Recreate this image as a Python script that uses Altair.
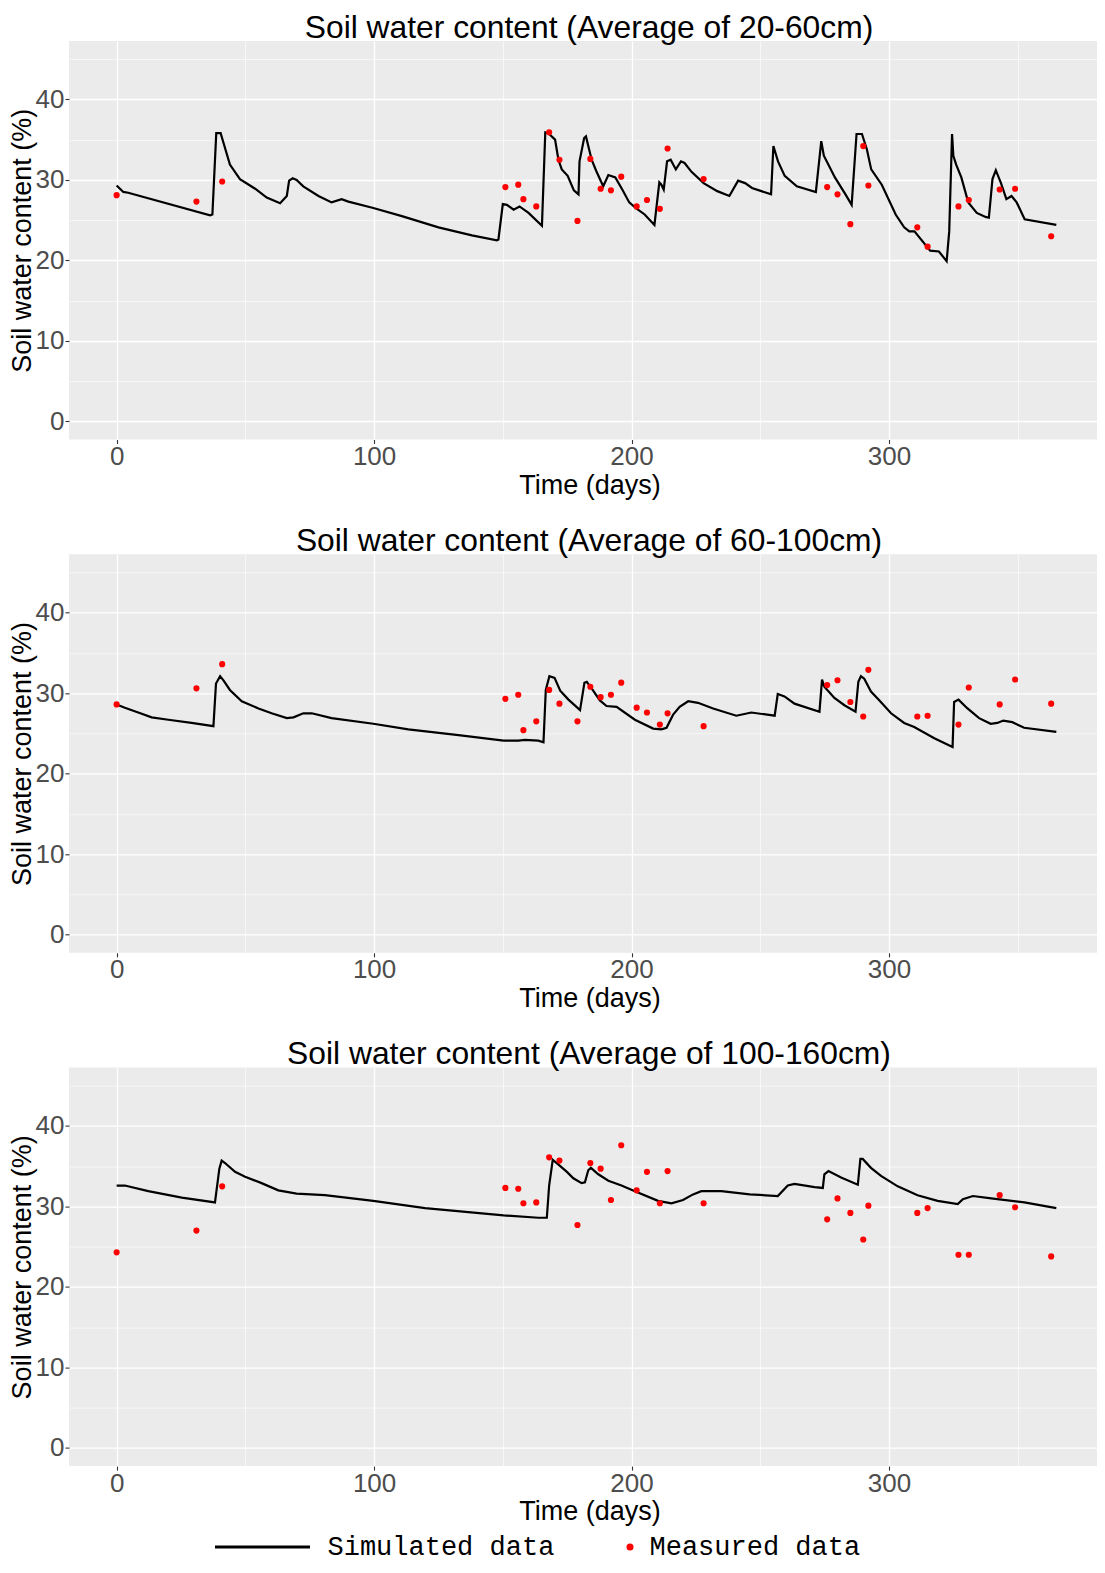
import altair as alt
import pandas as pd

# ---------------- data ----------------
TITLES = [
    "Soil water content (Average of 20-60cm)",
    "Soil water content (Average of 60-100cm)",
    "Soil water content (Average of 100-160cm)",
]

MEAS_DAYS = [0, 31, 41, 151, 156, 158, 163, 168, 172, 179, 184, 188, 192, 196,
             202, 206, 211, 214, 228, 276, 280, 285, 290, 292, 311, 315, 327,
             331, 343, 349, 363]

MEAS1 = [28.1, 27.3, 29.8, 29.1, 29.4, 27.6, 26.7, 35.9, 32.5, 24.9, 32.6, 28.9,
         28.7, 30.4, 26.7, 27.5, 26.4, 33.9, 30.1, 29.1, 28.2, 24.5, 34.2, 29.3,
         24.1, 21.7, 26.7, 27.5, 28.8, 28.9, 23.0]
MEAS2 = [28.6, 30.6, 33.6, 29.3, 29.8, 25.4, 26.5, 30.4, 28.7, 26.5, 30.8, 29.5,
         29.8, 31.3, 28.2, 27.6, 26.1, 27.5, 25.9, 31.0, 31.6, 28.9, 27.1, 32.9,
         27.1, 27.2, 26.1, 30.7, 28.6, 31.7, 28.7]
MEAS3 = [24.3, 27.0, 32.5, 32.3, 32.2, 30.4, 30.5, 36.1, 35.7, 27.7, 35.4, 34.7,
         30.8, 37.6, 32.0, 34.3, 30.4, 34.4, 30.4, 28.4, 31.0, 29.2, 25.9, 30.1,
         29.2, 29.8, 24.0, 24.0, 31.4, 29.9, 23.8]

SIM1_DAY = [0, 2.6, 4.5, 36.3, 37.2, 38.7, 40.4, 41.7, 44.0, 47.9, 53.8, 58.3,
            63.5, 66.1, 67.0, 68.4, 69.9, 72.5, 78.4, 83.5, 87.4, 90.0, 99.7,
            110.8, 125, 138, 147.7, 148.3, 150, 151.6, 154.2, 156.5, 160, 165.2,
            166.5, 167.7, 170.3, 171.6, 172.9, 175.2, 177.6, 179.4, 179.8, 181.6,
            182.3, 184.5, 186.3, 189.0, 191.0, 193.7, 196.4, 199.1, 201.7, 205.1,
            208.9, 210.8, 211.6, 212.5, 213.8, 215.2, 217.2, 219.2, 220.6, 223.3,
            228.0, 233.3, 238.0, 241.4, 244.1, 246.8, 254.2, 255.1, 256.9, 259.5,
            264.2, 271.6, 273.7, 274.7, 279.0, 283.1, 285.5, 287.4, 289.5, 291.4,
            293.1, 297.2, 302.6, 305.9, 307.9, 309.9, 316.0, 319.4, 322.4, 323.4,
            324.5, 325.0, 326.1, 328.1, 330.8, 334.1, 337.5, 338.8, 340.2, 341.5,
            343.5, 345.6, 347.6, 349.6, 352.7, 365]
SIM1_VAL = [29.3, 28.5, 28.4, 25.6, 25.7, 35.8, 35.8, 34.4, 31.9, 30.1, 28.9, 27.8,
            27.1, 28.0, 29.9, 30.2, 30.0, 29.2, 28.0, 27.2, 27.6, 27.3, 26.5,
            25.5, 24.1, 23.1, 22.5, 22.6, 27.0, 26.9, 26.3, 26.7, 25.9, 24.3,
            35.9, 35.8, 35.0, 32.5, 31.3, 30.5, 28.7, 28.2, 32.3, 35.2,
            35.4, 32.5, 31.1, 29.2, 30.6, 30.3, 28.8, 27.2, 26.5, 25.7,
            24.4, 29.7, 29.4, 28.8, 32.3, 32.5, 31.3, 32.3, 32.1, 31.0,
            29.6, 28.6, 28.0, 29.9, 29.6, 29.0, 28.2, 34.2, 32.3, 30.5,
            29.2, 28.5, 34.8, 33.0, 30.3, 28.2, 26.9, 35.7, 35.7, 33.8,
            31.3, 29.4, 25.7, 24.1, 23.6, 23.6, 21.2, 21.1, 19.9, 23.6,
            35.7, 33.0, 31.9, 30.3, 27.2, 25.9, 25.4, 25.3, 30.1, 31.2,
            29.6, 27.6, 28.0, 27.2, 25.1, 24.4]

SIM2_DAY = [0, 3.2, 8.4, 13.6, 20.1, 29.1, 37.6, 38.6, 40.2, 41.5, 44.0, 48.6,
            55.1, 60.2, 66.1, 68.7, 72.5, 75.8, 83.5, 99.7, 113.3, 132.8, 150.3,
            156.1, 158.6, 163.8, 165.8, 166.7, 168.1, 170.1, 172.3, 175.5, 180.0,
            181.7, 182.6, 184.5, 187.7, 190.3, 194.2, 201.3, 208.4, 211.6, 213.6,
            216.1, 218.7, 222.0, 225.8, 231.7, 240.7, 246.5, 255.6, 256.8, 259.4,
            263.3, 273.0, 274.0, 274.9, 278.8, 282.7, 287.0, 288.1, 289.1, 290.4,
            293.0, 296.3, 300.8, 305.9, 309.8, 317.6, 324.7, 325.3, 327.0, 330.5,
            335.0, 339.5, 342.1, 344.4, 347.9, 352.5, 365]
SIM2_VAL = [28.6, 28.2, 27.6, 27.0, 26.7, 26.3, 25.9, 31.2, 32.1, 31.6, 30.4, 29.0,
            28.1, 27.5, 26.9, 27.0, 27.5, 27.5, 26.9, 26.2, 25.5, 24.8, 24.1,
            24.1, 24.2, 24.1, 23.9, 30.4, 32.1, 31.9, 30.3, 29.2, 27.9,
            31.3, 31.4, 30.6, 29.1, 28.4, 28.3, 26.7, 25.6, 25.5, 25.7,
            27.3, 28.3, 29.0, 28.8, 28.1, 27.2, 27.6, 27.2, 29.9, 29.6,
            28.7, 27.7, 31.7, 30.8, 29.4, 28.5, 27.7, 31.4, 32.1, 31.8,
            30.2, 29.1, 27.5, 26.3, 25.8, 24.4, 23.3, 28.9, 29.2, 28.1,
            26.9, 26.2, 26.3, 26.6, 26.4, 25.7, 25.2]

SIM3_DAY = [0, 3.2, 12.3, 25.3, 38.2, 39.9, 40.8, 42.1, 46.0, 49.9, 56.3, 62.8,
            69.9, 80.9, 99.7, 119.8, 150.3, 163.8, 167.1, 168.0, 169.4, 171.3,
            174.9, 177.4, 180.6, 181.9, 183.2, 184.2, 187.1, 191.0, 196.1, 201.3,
            210.3, 215.5, 220.0, 223.9, 227.1, 234.9, 245.9, 256.8, 260.7, 263.3,
            271.1, 274.3, 274.9, 276.5, 281.4, 287.9, 288.9, 289.8, 293.0, 296.9,
            303.4, 311.1, 318.9, 326.7, 328.7, 332.6, 339.7, 352.6, 365]
SIM3_VAL = [32.6, 32.6, 31.9, 31.1, 30.5, 34.7, 35.7, 35.4, 34.3, 33.7, 32.9, 32.0,
            31.6, 31.4, 30.7, 29.8, 28.9, 28.6, 28.6, 32.6, 35.8, 35.3,
            34.3, 33.5, 32.9, 33.0, 34.5, 34.8, 34.0, 33.2, 32.6, 31.9,
            30.7, 30.4, 30.8, 31.5, 31.9, 31.9, 31.5, 31.3, 32.6, 32.8,
            32.4, 32.3, 34.0, 34.4, 33.6, 32.7, 35.9, 35.9, 34.8, 33.8,
            32.5, 31.4, 30.7, 30.3, 30.9, 31.3, 31.0, 30.5, 29.8]

X_TICKS = [0, 50, 100, 150, 200, 250, 300, 350]
Y_TICKS = [0, 5, 10, 15, 20, 25, 30, 35, 40, 45]

SIM_LABEL = "Simulated data"
MEAS_LABEL = "Measured data"

# ---------------- styling ----------------
W, H = 1028, 398.5
FONT = "Liberation Sans"
LEG_Y = 1492.5

x_axis = alt.Axis(
    values=X_TICKS,
    labelExpr="datum.value % 100 === 0 ? datum.label : ''",
    labelOverlap=False,
    gridColor="white",
    gridWidth={"condition": {"test": "datum.value % 100 === 0", "value": 1.3}, "value": 0.6},
    tickOpacity={"condition": {"test": "datum.value % 100 === 0", "value": 1}, "value": 0},
    tickColor="#333333", tickSize=4, tickWidth=1.1,
    domain=False,
    labelFont=FONT, labelFontSize=26, labelColor="#4D4D4D", labelPadding=0,
    title="Time (days)", titleFont=FONT, titleFontSize=27, titleFontWeight="normal",
    titleColor="black", titlePadding=2.5, titleX=520.5,
)

y_axis = alt.Axis(
    values=Y_TICKS,
    labelExpr="datum.value % 10 === 0 ? datum.label : ''",
    labelOverlap=False,
    gridColor="white",
    gridWidth={"condition": {"test": "datum.value % 10 === 0", "value": 1.3}, "value": 0.6},
    tickOpacity={"condition": {"test": "datum.value % 10 === 0", "value": 1}, "value": 0},
    tickColor="#333333", tickSize=4, tickWidth=1.1,
    domain=False,
    labelFont=FONT, labelFontSize=26, labelColor="#4D4D4D", labelPadding=1,
    title="Soil water content (%)", titleFont=FONT, titleFontSize=27,
    titleFontWeight="normal", titleColor="black",
    titleX=-46.5, titleY=H / 2, titleBaseline="middle", titleAngle=270,
)

x_scale = alt.Scale(domain=[-18.5, 380.8], nice=False, zero=False)
y_scale = alt.Scale(domain=[-2.25, 47.25], nice=False, zero=False)


def panel(title, sim_day, sim_val, meas_val):
    sim = pd.DataFrame({"day": sim_day, "swc": sim_val, "type": SIM_LABEL})
    meas = pd.DataFrame({"day": MEAS_DAYS, "swc": meas_val, "type": MEAS_LABEL})
    line = alt.Chart(sim).mark_line(strokeWidth=2.2).encode(
        x=alt.X("day:Q", scale=x_scale, axis=x_axis),
        y=alt.Y("swc:Q", scale=y_scale, axis=y_axis),
        stroke=alt.Stroke(
            "type:N",
            scale=alt.Scale(domain=[SIM_LABEL], range=["black"]),
            legend=alt.Legend(
                title=None, orient="none", legendX=180, legendY=LEG_Y,
                symbolType="M-5,0H5", symbolSize=361, symbolStrokeWidth=3,
                symbolStrokeColor="black",
                labelFont="Liberation Mono", labelFontSize=27, labelColor="black",
                labelOffset=51.5, labelLimit=600, padding=0,
            ),
        ),
    )
    pts = alt.Chart(meas).mark_circle(size=38, opacity=1).encode(
        x="day:Q",
        y="swc:Q",
        fill=alt.Fill(
            "type:N",
            scale=alt.Scale(domain=[MEAS_LABEL], range=["#FF0000"]),
            legend=alt.Legend(
                title=None, orient="none", legendX=547.5, legendY=LEG_Y,
                symbolType="circle", symbolSize=50, symbolOpacity=1,
                labelFont="Liberation Mono", labelFontSize=27, labelColor="black",
                labelOffset=6, labelLimit=600, padding=0,
            ),
        ),
    )
    return alt.layer(line, pts).properties(
        width=W, height=H,
        title=alt.TitleParams(title, font=FONT, fontSize=31.8, fontWeight="normal",
                              color="black", anchor="middle", offset=-3.5, dx=6),
    )


p1 = panel(TITLES[0], SIM1_DAY, SIM1_VAL, MEAS1)
p2 = panel(TITLES[1], SIM2_DAY, SIM2_VAL, MEAS2)
p3 = panel(TITLES[2], SIM3_DAY, SIM3_VAL, MEAS3)

chart = alt.vconcat(p1, p2, p3, spacing=114.3, bounds="flush").properties(
    padding={"left": 0, "top": 4, "right": 0, "bottom": 4},
    background="white",
).configure_view(
    fill="#EBEBEB", stroke="#EBEBEB", strokeWidth=0,
)

chart.save("out.html", embed_options={"renderer": "svg", "actions": False})
